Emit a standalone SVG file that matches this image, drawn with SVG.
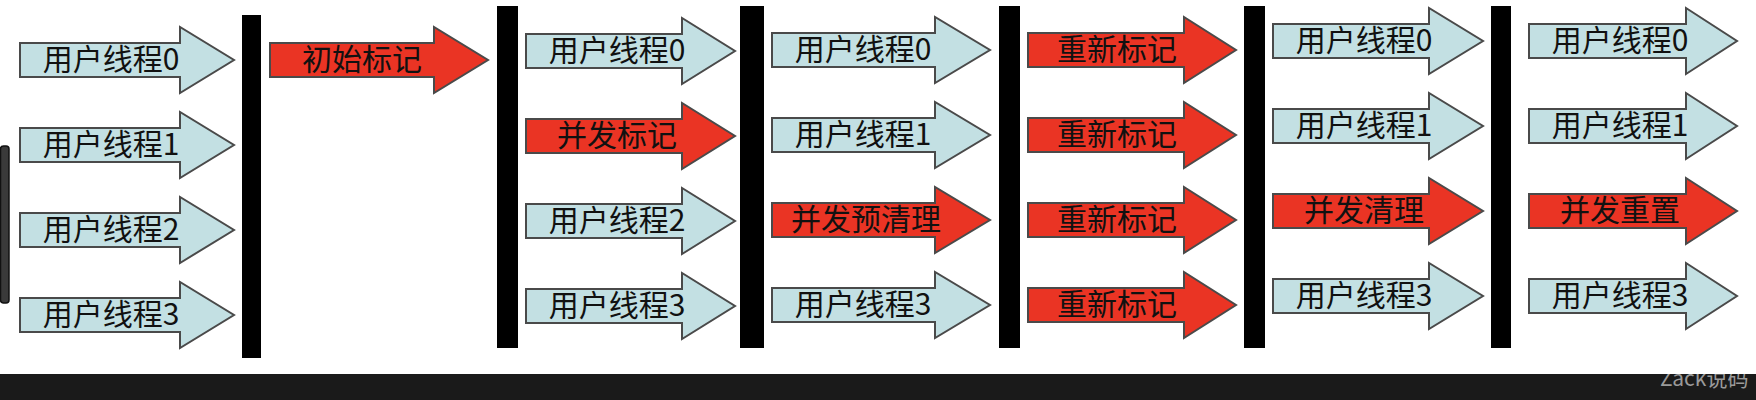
<svg xmlns="http://www.w3.org/2000/svg" width="1756" height="400" viewBox="0 0 1756 400">
<defs>
<style>
.blue{fill:#c3e0e3;stroke:#4a4a4a;stroke-width:2;stroke-linejoin:miter}
.red{fill:#ea3424;stroke:#4a4a4a;stroke-width:2;stroke-linejoin:miter}
.bar{fill:#000}
.lbl{font-family:"Noto Sans CJK SC","Liberation Sans",sans-serif;font-size:30px;fill:#111;text-anchor:middle}
</style>
<clipPath id="bandclip"><rect x="0" y="374" width="1756" height="26"/></clipPath>
</defs>
<rect x="0" y="0" width="1756" height="400" fill="#fff"/>
<rect x="0.5" y="146" width="8.5" height="157" rx="3" fill="#3a3a3a" stroke="#111" stroke-width="1.5"/>

<g id="bars">
<rect id="bar1" class="bar" x="242" y="15" width="19" height="343"/>
<rect id="bar2" class="bar" x="497" y="6" width="21" height="342"/>
<rect id="bar3" class="bar" x="740" y="6" width="24" height="342"/>
<rect id="bar4" class="bar" x="999" y="6" width="21" height="342"/>
<rect id="bar5" class="bar" x="1244" y="6" width="21" height="342"/>
<rect id="bar6" class="bar" x="1491" y="6" width="20" height="342"/>
</g>

<g id="c1a0"><path class="blue" d="M20,43 H180 V27 L234,60 L180,93 V77 H20 Z"/><text class="lbl" x="111" y="70">用户线程0</text></g>
<g id="c1a1"><path class="blue" d="M20,128 H180 V112 L234,145 L180,178 V162 H20 Z"/><text class="lbl" x="111" y="155">用户线程1</text></g>
<g id="c1a2"><path class="blue" d="M20,213 H180 V197 L234,230 L180,263 V247 H20 Z"/><text class="lbl" x="111" y="240">用户线程2</text></g>
<g id="c1a3"><path class="blue" d="M20,298 H180 V282 L234,315 L180,348 V332 H20 Z"/><text class="lbl" x="111" y="325">用户线程3</text></g>

<g id="c2a0"><path class="red" d="M270,43 H434 V27 L488,60 L434,93 V77 H270 Z"/><text class="lbl" x="362" y="70">初始标记</text></g>

<g id="c3a0"><path class="blue" d="M526,34 H682 V18 L735,51 L682,84 V68 H526 Z"/><text class="lbl" x="617" y="61">用户线程0</text></g>
<g id="c3a1"><path class="red" d="M526,119 H682 V103 L735,136 L682,169 V153 H526 Z"/><text class="lbl" x="617" y="146">并发标记</text></g>
<g id="c3a2"><path class="blue" d="M526,204 H682 V188 L735,221 L682,254 V238 H526 Z"/><text class="lbl" x="617" y="231">用户线程2</text></g>
<g id="c3a3"><path class="blue" d="M526,289 H682 V273 L735,306 L682,339 V323 H526 Z"/><text class="lbl" x="617" y="316">用户线程3</text></g>

<g id="c4a0"><path class="blue" d="M772,33 H935 V17 L990,50 L935,83 V67 H772 Z"/><text class="lbl" x="863" y="60">用户线程0</text></g>
<g id="c4a1"><path class="blue" d="M772,118 H935 V102 L990,135 L935,168 V152 H772 Z"/><text class="lbl" x="863" y="145">用户线程1</text></g>
<g id="c4a2"><path class="red" d="M772,203 H935 V187 L990,220 L935,253 V237 H772 Z"/><text class="lbl" x="866" y="230">并发预清理</text></g>
<g id="c4a3"><path class="blue" d="M772,288 H935 V272 L990,305 L935,338 V322 H772 Z"/><text class="lbl" x="863" y="315">用户线程3</text></g>

<g id="c5a0"><path class="red" d="M1028,33 H1184 V17 L1236,50 L1184,83 V67 H1028 Z"/><text class="lbl" x="1117" y="60">重新标记</text></g>
<g id="c5a1"><path class="red" d="M1028,118 H1184 V102 L1236,135 L1184,168 V152 H1028 Z"/><text class="lbl" x="1117" y="145">重新标记</text></g>
<g id="c5a2"><path class="red" d="M1028,203 H1184 V187 L1236,220 L1184,253 V237 H1028 Z"/><text class="lbl" x="1117" y="230">重新标记</text></g>
<g id="c5a3"><path class="red" d="M1028,288 H1184 V272 L1236,305 L1184,338 V322 H1028 Z"/><text class="lbl" x="1117" y="315">重新标记</text></g>

<g id="c6a0"><path class="blue" d="M1273,24 H1429 V8 L1483,41 L1429,74 V58 H1273 Z"/><text class="lbl" x="1364" y="51">用户线程0</text></g>
<g id="c6a1"><path class="blue" d="M1273,109 H1429 V93 L1483,126 L1429,159 V143 H1273 Z"/><text class="lbl" x="1364" y="136">用户线程1</text></g>
<g id="c6a2"><path class="red" d="M1273,194 H1429 V178 L1483,211 L1429,244 V228 H1273 Z"/><text class="lbl" x="1364" y="221">并发清理</text></g>
<g id="c6a3"><path class="blue" d="M1273,279 H1429 V263 L1483,296 L1429,329 V313 H1273 Z"/><text class="lbl" x="1364" y="306">用户线程3</text></g>

<g id="c7a0"><path class="blue" d="M1529,24 H1686 V8 L1737,41 L1686,74 V58 H1529 Z"/><text class="lbl" x="1620" y="51">用户线程0</text></g>
<g id="c7a1"><path class="blue" d="M1529,109 H1686 V93 L1737,126 L1686,159 V143 H1529 Z"/><text class="lbl" x="1620" y="136">用户线程1</text></g>
<g id="c7a2"><path class="red" d="M1529,194 H1686 V178 L1737,211 L1686,244 V228 H1529 Z"/><text class="lbl" x="1620" y="221">并发重置</text></g>
<g id="c7a3"><path class="blue" d="M1529,279 H1686 V263 L1737,296 L1686,329 V313 H1529 Z"/><text class="lbl" x="1620" y="306">用户线程3</text></g>

<g id="connectors"></g>

<rect x="0" y="374" width="1756" height="26" fill="#1a1a1a"/>
<text x="1660" y="386" clip-path="url(#bandclip)" font-family="'Noto Sans CJK SC','Liberation Sans',sans-serif" font-size="21" fill="#9a9a9a">Zack说码</text>
</svg>
